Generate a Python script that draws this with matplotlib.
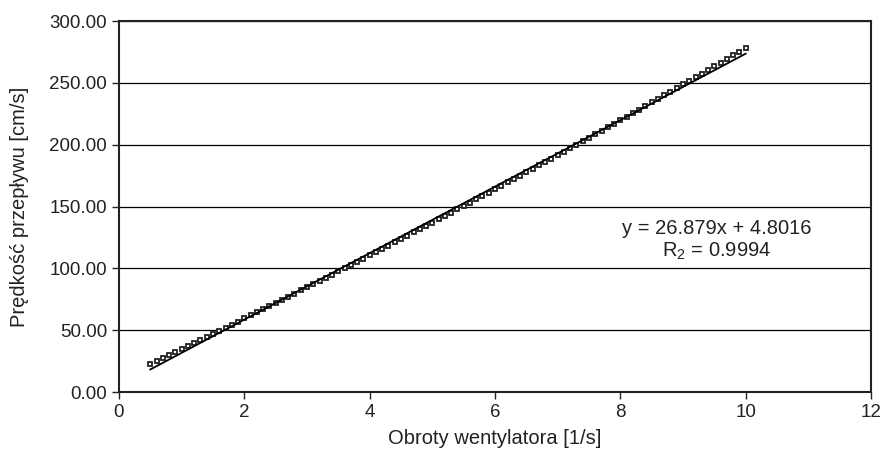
import numpy as np
import matplotlib
matplotlib.use("Agg")
from matplotlib import pyplot as plt

plt.rcParams['font.family'] = ['Liberation Sans', 'DejaVu Sans']
plt.rcParams['mathtext.fontset'] = 'custom'
plt.rcParams['mathtext.rm'] = 'Liberation Sans'
plt.rcParams['mathtext.it'] = 'Liberation Sans'

# measured points: fan speed [1/s] vs flow velocity [cm/s]
obroty = np.round(np.arange(5, 101) * 0.1, 1)
predkosc = [
    22.8, 25.2, 27.6, 30.0, 32.4, 34.8, 37.3, 39.7, 42.2, 44.6,
    47.1, 49.5, 52.0, 54.5, 57.0, 59.5, 62.0, 64.5, 67.0, 69.5,
    72.0, 74.5, 77.1, 79.6, 82.2, 84.7, 87.3, 89.8, 92.4, 95.0,
    97.5, 100.1, 102.7, 105.3, 107.9, 110.5, 113.2, 115.8, 118.4, 121.0,
    123.7, 126.3, 129.0, 131.6, 134.3, 137.0, 139.6, 142.3, 145.0, 147.7,
    150.4, 153.1, 155.8, 158.5, 161.3, 164.0, 166.7, 169.5, 172.2, 175.0,
    177.7, 180.5, 183.3, 186.0, 188.8, 191.6, 194.4, 197.2, 200.0, 202.8,
    205.7, 208.5, 211.3, 214.2, 217.0, 219.9, 222.7, 225.6, 228.4, 231.3,
    234.2, 237.1, 240.0, 242.9, 245.8, 248.7, 251.6, 254.5, 257.4, 260.4,
    263.3, 266.3, 269.2, 272.2, 275.1, 278.1,
]
slope = 26.879
intercept = 4.8016
r2 = 0.9994

fig = plt.figure(figsize=(8.82, 4.57), dpi=100)
ax = fig.add_axes([0.1349, 0.1422, 0.8526, 0.8118])

ax.plot(obroty, predkosc, linestyle='none', marker='s', markersize=3.0,
        markerfacecolor='white', markeredgecolor='#222222', markeredgewidth=1.3, zorder=3)
xl = np.array([obroty[0], obroty[-1]])
ax.plot(xl, slope * xl + intercept, color='black', linewidth=1.3, zorder=4)

ax.set_xlim(0, 12)
ax.set_ylim(0, 300)
ax.set_xticks(np.arange(0, 13, 2))
yt = np.arange(0, 301, 50)
ax.set_yticks(yt)
ax.set_yticklabels([f"{v:.2f}" for v in yt])
ax.yaxis.grid(True, color='black', linewidth=0.9)
ax.set_axisbelow(True)
for s in ax.spines.values():
    s.set_color('#222222')
    s.set_linewidth(1.5)
ax.tick_params(direction='out', length=5, width=1, labelsize=13.5, colors='#222222')

ax.set_xlabel('Obroty wentylatora [1/s]', fontsize=14.5, color='#222222', labelpad=6)
ax.set_ylabel('Prędkość przepływu [cm/s]', fontsize=14.5, color='#222222', labelpad=15)

ax.text(9.54, 132, f"y = {slope}x + {intercept}", ha='center', va='center',
        fontsize=14.5, color='#222222')
ax.text(9.54, 114, r"R$_2$ = " + f"{r2}", ha='center', va='center',
        fontsize=14.5, color='#222222')

fig.savefig('out.png', dpi=100)
